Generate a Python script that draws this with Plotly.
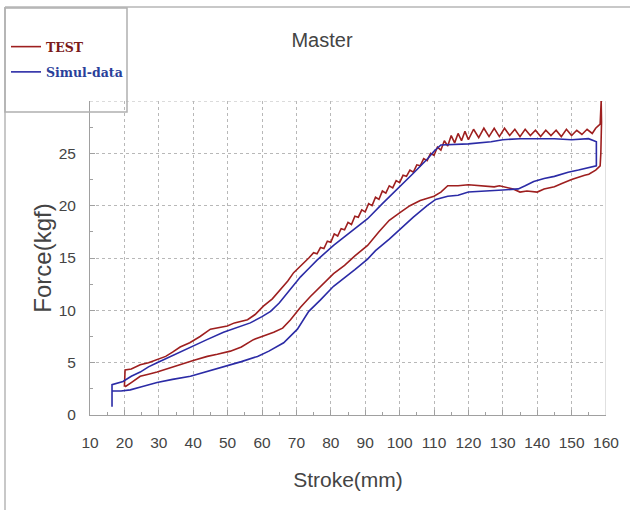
import plotly.graph_objects as go

# ---- TEST (measured) loop: loading branch then unloading branch ----
test_x = [20.0, 20.2, 22, 24.6, 27, 29.5, 32, 34, 36.2, 39, 42, 45, 47, 49.9, 52, 55.8, 58, 60.4, 63, 65.4,
          67.5, 69.2, 71.2, 73.6, 75, 76, 77, 78, 79, 80, 81, 82, 83, 84, 85, 86, 87, 88, 89, 90,
          91, 92, 93, 94, 95, 96, 97, 98, 99, 100, 101, 102, 103, 104, 105, 106, 107, 108, 109, 110,
          111, 112, 113, 114, 115, 116, 117, 118, 119, 120, 121.5, 123, 124.5, 126, 127.5, 129, 130.5, 132,
          133.5, 135, 136.5, 138, 139.5, 141, 142.5, 144, 145.5, 147, 148.5, 150, 151.5, 153, 154.5, 156,
          157, 157.8, 158.3, 158.6, 158.7, 158.5, 158.3,
          157, 155, 153.8, 150, 147, 145, 142, 140, 137, 135, 133, 131.6, 129, 127.5, 124, 120, 117, 114,
          112, 110, 106, 103, 100.4, 97, 94, 90.7, 87, 84, 80.8, 77, 74, 71.2, 68.3, 66, 63.4, 60, 57.5,
          54, 50.8, 47, 44.1, 40, 36.2, 33, 29.5, 27, 24.6, 22, 20.5, 20.2]
test_y = [2.7, 4.3, 4.4, 4.8, 5.0, 5.3, 5.6, 6.0, 6.5, 6.9, 7.5, 8.2, 8.3, 8.5, 8.8, 9.1, 9.6, 10.4, 11.1, 12.0,
          12.8, 13.6, 14.2, 15.0, 15.5, 15.4, 16.0, 15.9, 16.6, 16.5, 17.3, 17.1, 17.8, 17.7, 18.4, 18.2, 19.0, 18.9, 19.6, 19.4,
          20.2, 20.0, 20.8, 20.6, 21.4, 21.2, 21.9, 21.7, 22.4, 22.2, 22.9, 22.8, 23.4, 23.2, 23.9, 23.8, 24.5, 24.3, 25.0, 24.8,
          25.6, 25.3, 26.2, 25.7, 26.7, 26.0, 26.9, 26.2, 27.1, 26.3, 27.3, 26.5, 27.4, 26.6, 27.4, 26.6, 27.4, 26.7,
          27.3, 26.6, 27.3, 26.7, 27.2, 26.6, 27.2, 26.7, 27.2, 26.6, 27.3, 26.7, 27.2, 26.8, 27.3, 26.9,
          27.4, 27.6, 27.8, 30.0, 28.0, 25.0, 23.8,
          23.4, 23.0, 22.9, 22.5, 22.1, 21.8, 21.6, 21.3, 21.4, 21.3, 21.6, 21.7, 21.9, 21.8, 21.9, 22.0, 21.9, 21.9,
          21.3, 20.9, 20.5, 20.0, 19.4, 18.6, 17.5, 16.2, 15.2, 14.3, 13.5, 12.3, 11.3, 10.3, 9.1, 8.3, 7.9, 7.5, 7.2,
          6.5, 6.1, 5.8, 5.6, 5.2, 4.8, 4.4, 4.1, 3.9, 3.7, 3.1, 2.8, 2.7]

# ---- Simulation loop ----
sim_x = [16.4, 16.4, 19.6, 22, 24.6, 27, 29.5, 34, 39.2, 44, 48.8, 52, 56.6, 60, 62.5, 65, 68.3, 71.2, 73.6,
         76, 80.8, 85, 90.7, 95, 100.4, 104, 108.2, 110, 112, 120, 126.6, 130, 135, 139, 145, 150, 154.9,
         156.5, 157.2, 157.2,
         155, 152, 149, 145, 142, 139, 136.5, 134.5, 130, 125, 120, 117, 114, 110.5, 108, 104, 100.4, 97, 93,
         90.7, 87, 84, 80.8, 77, 73.6, 70.3, 68, 66.3, 62, 58.7, 54, 48.8, 44, 39.2, 34, 29.5, 25, 21.7, 19, 16.4]
sim_y = [0.8, 2.9, 3.2, 3.7, 4.1, 4.6, 5.0, 5.7, 6.5, 7.2, 7.9, 8.3, 8.8, 9.4, 9.9, 10.7, 12.0, 13.2, 14.0,
         14.8, 16.2, 17.3, 18.75, 20.2, 21.9, 23.1, 24.5, 25.2, 25.8, 25.9, 26.1, 26.3, 26.4, 26.4, 26.4, 26.3, 26.4,
         26.2, 26.1, 23.8,
         23.6, 23.4, 23.2, 22.8, 22.6, 22.3, 21.9, 21.6, 21.5, 21.4, 21.3, 21.0, 20.9, 20.6, 20.0, 18.9, 17.8, 16.8, 15.7,
         14.9, 13.9, 13.1, 12.3, 11.0, 9.9, 8.2, 7.4, 6.9, 6.1, 5.6, 5.1, 4.6, 4.1, 3.7, 3.4, 3.1, 2.7, 2.4, 2.3, 2.3]

x_ticks = [10, 20, 30, 40, 50, 60, 70, 80, 90, 100, 110, 120, 130, 140, 150, 160]
y_ticks = [0, 5, 10, 15, 20, 25]

RED = "#9e1f1f"
BLUE = "#2b2ba6"
FONT = "Liberation Sans, Arial, sans-serif"

fig = go.Figure()
fig.add_trace(go.Scatter(x=test_x, y=test_y, mode="lines", line=dict(color=RED, width=1.6),
                         name="<b><span style='color:#7a1a1a'>TEST</span></b>", legendgroup="a"))
fig.add_trace(go.Scatter(x=sim_x, y=sim_y, mode="lines", line=dict(color=BLUE, width=1.6),
                         name="<b><span style='color:#2a3f9a'>Simul-data</span></b>", legendgroup="b"))

def px2x(px):
    return (px - 90) / 516.0

def py2y(py):
    return (415 - py) / 314.0

shapes = [
    # outer frame
    dict(type="line", xref="paper", yref="paper", x0=px2x(5), x1=px2x(640), y0=py2y(7), y1=py2y(7),
         line=dict(color="#c8c8c8", width=2)),
    dict(type="line", xref="paper", yref="paper", x0=px2x(5), x1=px2x(5), y0=py2y(7), y1=py2y(520),
         line=dict(color="#c8c8c8", width=2)),
    # legend box
    dict(type="rect", xref="paper", yref="paper", x0=px2x(5), x1=px2x(127), y0=py2y(8), y1=py2y(112),
         line=dict(color="#b0b0b0", width=1.5), fillcolor="rgba(0,0,0,0)"),
    # top dotted border at 30 and right border
    dict(type="line", xref="x", yref="y", x0=10, x1=160, y0=30, y1=30,
         line=dict(color="#b8b8b8", width=1, dash="dot"), layer="below"),
    dict(type="line", xref="x", yref="y", x0=160, x1=160, y0=0, y1=30,
         line=dict(color="#c0c0c0", width=1), layer="below"),
]

fig.update_layout(
    width=630, height=510,
    margin=dict(l=90, r=24, t=101, b=95, autoexpand=False),
    paper_bgcolor="white", plot_bgcolor="white",
    title=dict(text="Master", x=px2x(322), xref="paper", xanchor="center",
               y=1 - 40 / 510, yref="container", yanchor="middle",
               font=dict(family=FONT, size=20, color="#444444")),
    showlegend=True,
    legend=dict(x=px2x(6), y=py2y(32), xanchor="left", yanchor="top", xref="paper", yref="paper",
                bgcolor="rgba(0,0,0,0)", borderwidth=0, itemwidth=30,
                font=dict(family="DejaVu Serif, Liberation Serif, serif", size=12.5, color="#333"),
                tracegroupgap=6, traceorder="grouped"),
    shapes=shapes,
    xaxis=dict(range=[10, 160], tickvals=x_ticks, ticktext=[str(v) for v in x_ticks],
               showgrid=True, gridcolor="#b8b8b8", griddash="dot", gridwidth=1,
               showline=True, linecolor="#a0a0a0", linewidth=1,
               ticks="inside", ticklen=5, tickcolor="#a0a0a0",
               minor=dict(dtick=5, tick0=10, ticks="inside", ticklen=3, tickcolor="#a0a0a0", showgrid=False),
               ticklabelstandoff=13, zeroline=False, automargin=False,
               tickfont=dict(family=FONT, size=15.5, color="#444444"),
               title=dict(text="Stroke(mm)", font=dict(family=FONT, size=21, color="#444444"), standoff=22)),
    yaxis=dict(range=[0, 30], tickvals=y_ticks, ticktext=[str(v) for v in y_ticks],
               showgrid=True, gridcolor="#b8b8b8", griddash="dot", gridwidth=1,
               showline=True, linecolor="#a0a0a0", linewidth=1,
               ticks="inside", ticklen=5, tickcolor="#a0a0a0",
               minor=dict(dtick=2.5, tick0=0, ticks="inside", ticklen=3, tickcolor="#a0a0a0", showgrid=False),
               ticklabelstandoff=10, zeroline=False, automargin=False,
               tickfont=dict(family=FONT, size=15.5, color="#444444"),
               title=dict(text="Force(kgf)", font=dict(family=FONT, size=24, color="#444444"), standoff=0)),
)

fig.write_html("out.html", config={"displayModeBar": False},
               post_script="document.body.style.margin='0';")
